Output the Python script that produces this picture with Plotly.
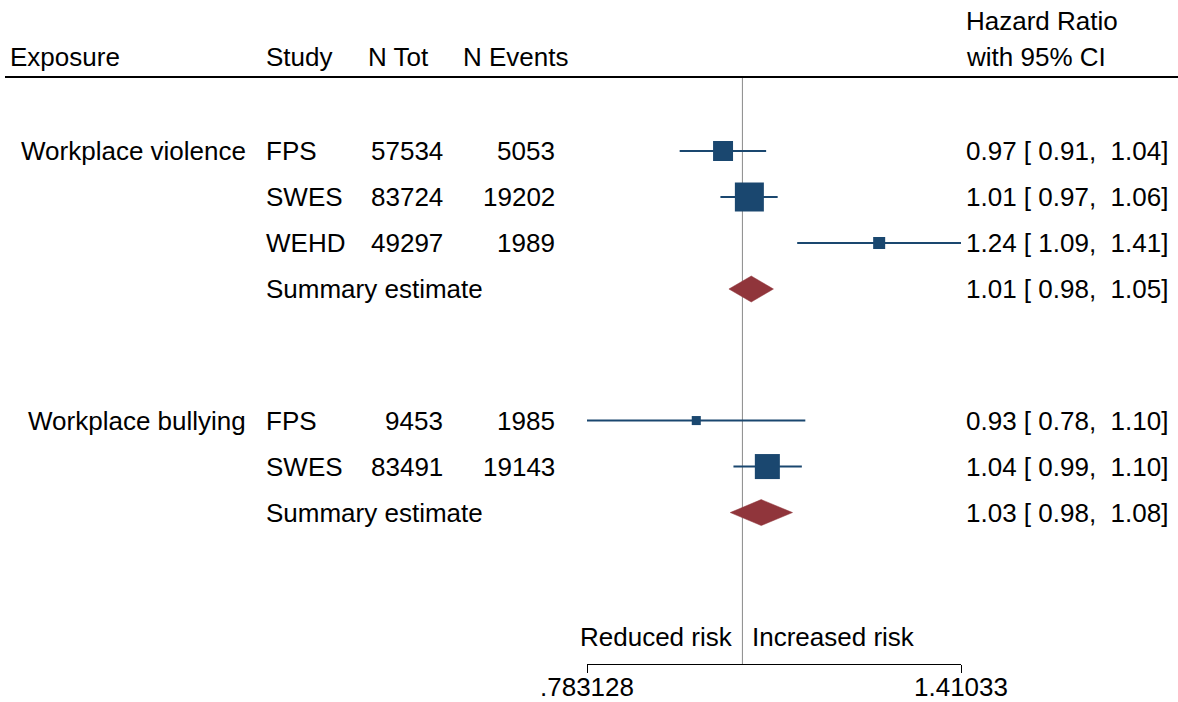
import math
import plotly.graph_objects as go

# ---------------- data ----------------
exposure_labels = ["Workplace violence", "", "", "", "Workplace bullying", "", ""]
studies = ["FPS", "SWES", "WEHD", "Summary estimate", "FPS", "SWES", "Summary estimate"]
n_tot = [57534, 83724, 49297, None, 9453, 83491, None]
n_events = [5053, 19202, 1989, None, 1985, 19143, None]
hazard_ratio = [0.970, 1.011, 1.240, 1.014, 0.930, 1.040, 1.030]
ci_low = [0.906, 0.966, 1.090, 0.979, 0.783128, 0.986, 0.981]
ci_high = [1.038, 1.057, 1.41033, 1.050, 1.104, 1.098, 1.082]
weights = [19.1, 40.2, 6.9, None, 3.9, 29.9, None]
is_summary = [False, False, False, True, False, False, True]
null_value = 1.0
axis_ticks = [0.783128, 1.41033]
axis_ticktext = [".783128", "1.41033"]
headers = ["Exposure", "Study", "N Tot", "N Events"]
hr_header = ["Hazard Ratio", "with 95% CI"]
direction_labels = ["Reduced risk", "Increased risk"]

# ---------------- layout helpers ----------------
W, H = 1178, 702
ROW0_PX, ROW_STEP = 151, 46
row_pos = [0, 1, 2, 3, 5.86, 6.86, 7.86]


def py(px):
    return (px - ROW0_PX) / ROW_STEP


def pxx(px):
    return px / W


FONT = "Liberation Sans, Arial, Helvetica, sans-serif"
FS = 26
NAVY = "#1A476F"
MAROON = "#90353B"
NB = "\u00a0"
PAD = 2  # compensate plotly's annotation padding

fig = go.Figure()

# CI lines for studies
lx, ly = [], []
for i in range(len(studies)):
    if not is_summary[i]:
        lx += [ci_low[i], ci_high[i], None]
        ly += [row_pos[i], row_pos[i], None]
fig.add_trace(go.Scatter(x=lx, y=ly, mode="lines", line=dict(color=NAVY, width=2),
                         hoverinfo="skip", showlegend=False))

# squares
max_w = max(w for w in weights if w is not None)
sx, sy, ss = [], [], []
for i in range(len(studies)):
    if not is_summary[i]:
        sx.append(hazard_ratio[i])
        sy.append(row_pos[i])
        ss.append(29 * math.sqrt(weights[i] / max_w))
fig.add_trace(go.Scatter(x=sx, y=sy, mode="markers",
                         marker=dict(symbol="square", size=ss, color=NAVY, opacity=1,
                                     line=dict(width=0)),
                         showlegend=False))

# diamonds
half_h = 13 / ROW_STEP
for i in range(len(studies)):
    if is_summary[i]:
        r = row_pos[i]
        fig.add_trace(go.Scatter(
            x=[ci_low[i], hazard_ratio[i], ci_high[i], hazard_ratio[i], ci_low[i]],
            y=[r, r - half_h, r, r + half_h, r],
            mode="lines", fill="toself", fillcolor=MAROON,
            line=dict(color=MAROON, width=0.5), showlegend=False, hoverinfo="skip"))

ann = []


def txt(text, x, y, anchor="left", xref="paper", xshift=0):
    shift = xshift + (-PAD if anchor == "left" else PAD)
    ann.append(dict(text=text, x=x, y=y, xref=xref, yref="y", xanchor=anchor,
                    yanchor="middle", showarrow=False, xshift=shift,
                    font=dict(family=FONT, size=FS, color="black")))


# headers
txt(headers[0], pxx(10), py(57))
txt(headers[1], pxx(266), py(57))
txt(headers[2], pxx(368), py(57))
txt(headers[3], pxx(463), py(57))
txt(hr_header[0], pxx(966), py(21))
txt(hr_header[1], pxx(966), py(57))

for i in range(len(studies)):
    r = row_pos[i]
    if exposure_labels[i]:
        txt(exposure_labels[i], pxx(246), r, "right")
    txt(studies[i], pxx(266), r)
    if n_tot[i] is not None:
        txt(str(n_tot[i]), pxx(443), r, "right")
    if n_events[i] is not None:
        txt(str(n_events[i]), pxx(555), r, "right")
    s = f"{hazard_ratio[i]:.2f}{NB}[{NB}{ci_low[i]:.2f},{NB}{NB}{ci_high[i]:.2f}]"
    txt(s, pxx(966), r)

# annotations on a log axis take log10 positions
txt(direction_labels[0], math.log10(null_value), py(637), "right", xref="x", xshift=-9)
txt(direction_labels[1], math.log10(null_value), py(637), "left", xref="x", xshift=10)

shapes = [
    dict(type="line", xref="paper", yref="y", x0=pxx(5), x1=1, y0=py(77), y1=py(77),
         line=dict(color="black", width=2)),
    dict(type="line", xref="x", yref="y", x0=null_value, x1=null_value, y0=py(78), y1=py(664),
         line=dict(color="#8a8a8a", width=1), layer="below"),
]

fig.update_layout(
    width=W, height=H, margin=dict(l=0, r=0, t=0, b=0, autoexpand=False),
    paper_bgcolor="white", plot_bgcolor="white",
    showlegend=False, annotations=ann, shapes=shapes,
    xaxis=dict(type="log", range=[math.log10(axis_ticks[0]), math.log10(axis_ticks[1])],
               domain=[pxx(587), pxx(961)], anchor="free", position=(H - 664) / H,
               tickvals=axis_ticks, ticktext=axis_ticktext, ticks="outside", ticklen=8,
               tickwidth=1, tickcolor="black", showline=True, linecolor="black",
               linewidth=1, showgrid=False, zeroline=False, automargin=False,
               ticklabelstandoff=-8,
               tickfont=dict(family=FONT, size=FS, color="black")),
    yaxis=dict(range=[py(H), py(0)], domain=[0, 1], visible=False, showgrid=False,
               zeroline=False),
)

fig.write_html("out.html")
